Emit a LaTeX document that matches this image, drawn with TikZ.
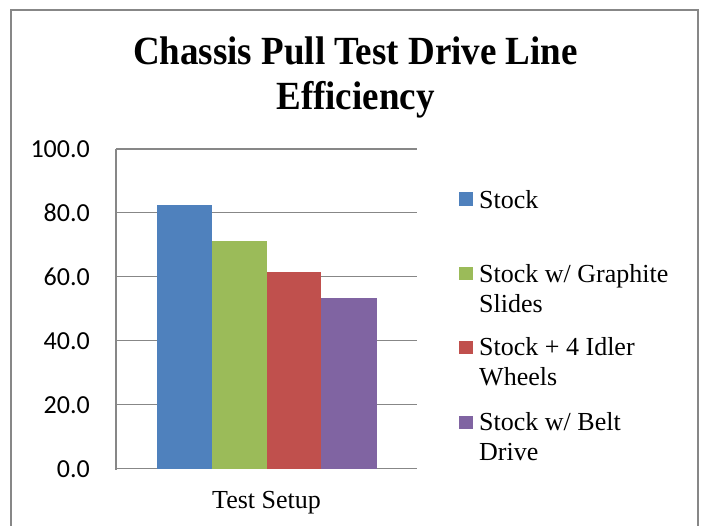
\documentclass[tikz,border=0pt]{standalone}
\usepackage{fontspec}
\usepackage{graphicx}
\setmainfont{Liberation Serif}
\newfontfamily\tickfont{Carlito}
\definecolor{frame}{HTML}{878787}
\definecolor{sblue}{HTML}{4F81BD}
\definecolor{sgreen}{HTML}{9BBB59}
\definecolor{sred}{HTML}{C0504D}
\definecolor{spurple}{HTML}{8064A2}
\begin{document}
\begin{tikzpicture}[x=1pt,y=-1pt,
  titletext/.style={font=\fontsize{37}{44}\selectfont\bfseries, inner sep=0pt, anchor=base},
  ticklabel/.style={font=\tickfont\fontsize{26}{30}\selectfont, inner sep=0pt, anchor=east},
  legtext/.style={font=\fontsize{26}{30}\selectfont, inner sep=0pt, anchor=base west},
  legmark/.style={minimum size=13.5pt, inner sep=0pt, draw=none},
  grid line/.style={draw=frame, line width=1.5pt},
  bar/.style={draw=none}]
\useasboundingbox (0,0) rectangle (703,525);
\draw[draw=frame, line width=2pt] (11,10) rectangle (698,540);
% gridlines
\foreach \v/\yy in {0/468.7,20/404.7,40/340.7,60/276.5,80/212.5,100/149}{
  \draw[grid line] (116,\yy) -- (417,\yy);
}
\draw[grid line] (116,149) -- (116,469.5);
% bars
\fill[sblue] (157,468.7) rectangle (212,205.3);
\fill[sgreen] (212,468.7) rectangle (266.7,241);
\fill[sred] (266.7,468.7) rectangle (321,272);
\fill[spurple] (321,468.7) rectangle (376.7,298);
% tick labels
\node[ticklabel] (t100) at (90,149) {100.0};
\node[ticklabel] (t80) at (90,212.5) {80.0};
\node[ticklabel] (t60) at (90,276.5) {60.0};
\node[ticklabel] (t40) at (90,340.7) {40.0};
\node[ticklabel] (t20) at (90,404.7) {20.0};
\node[ticklabel] (t0) at (90,468.7) {0.0};
% title
\node[titletext] (title1) at (355.5,64) {\scalebox{1}[1.08]{Chassis Pull Test Drive Line}};
\node[titletext] (title2) at (355.5,109) {\scalebox{1}[1.08]{Efficiency}};
% axis title
\node[legtext, anchor=base] (xlab) at (266.5,508) {Test Setup};
% legend
\node[legmark, fill=sblue] (m1) at (465.8,199) {};
\node[legmark, fill=sgreen] (m2) at (465.8,273.5) {};
\node[legmark, fill=sred] (m3) at (465.8,347.5) {};
\node[legmark, fill=spurple] (m4) at (465.8,422.5) {};
\node[legtext] (l1) at (479,208) {Stock};
\node[legtext] (l2) at (479,282) {\vtop{\hbox{Stock w/ Graphite}\hbox{Slides}}};
\node[legtext] (l3) at (479,355) {\vtop{\hbox{Stock + 4 Idler}\hbox{Wheels}}};
\node[legtext] (l4) at (479,430) {\vtop{\hbox{Stock w/ Belt}\hbox{Drive}}};
\end{tikzpicture}
\end{document}
